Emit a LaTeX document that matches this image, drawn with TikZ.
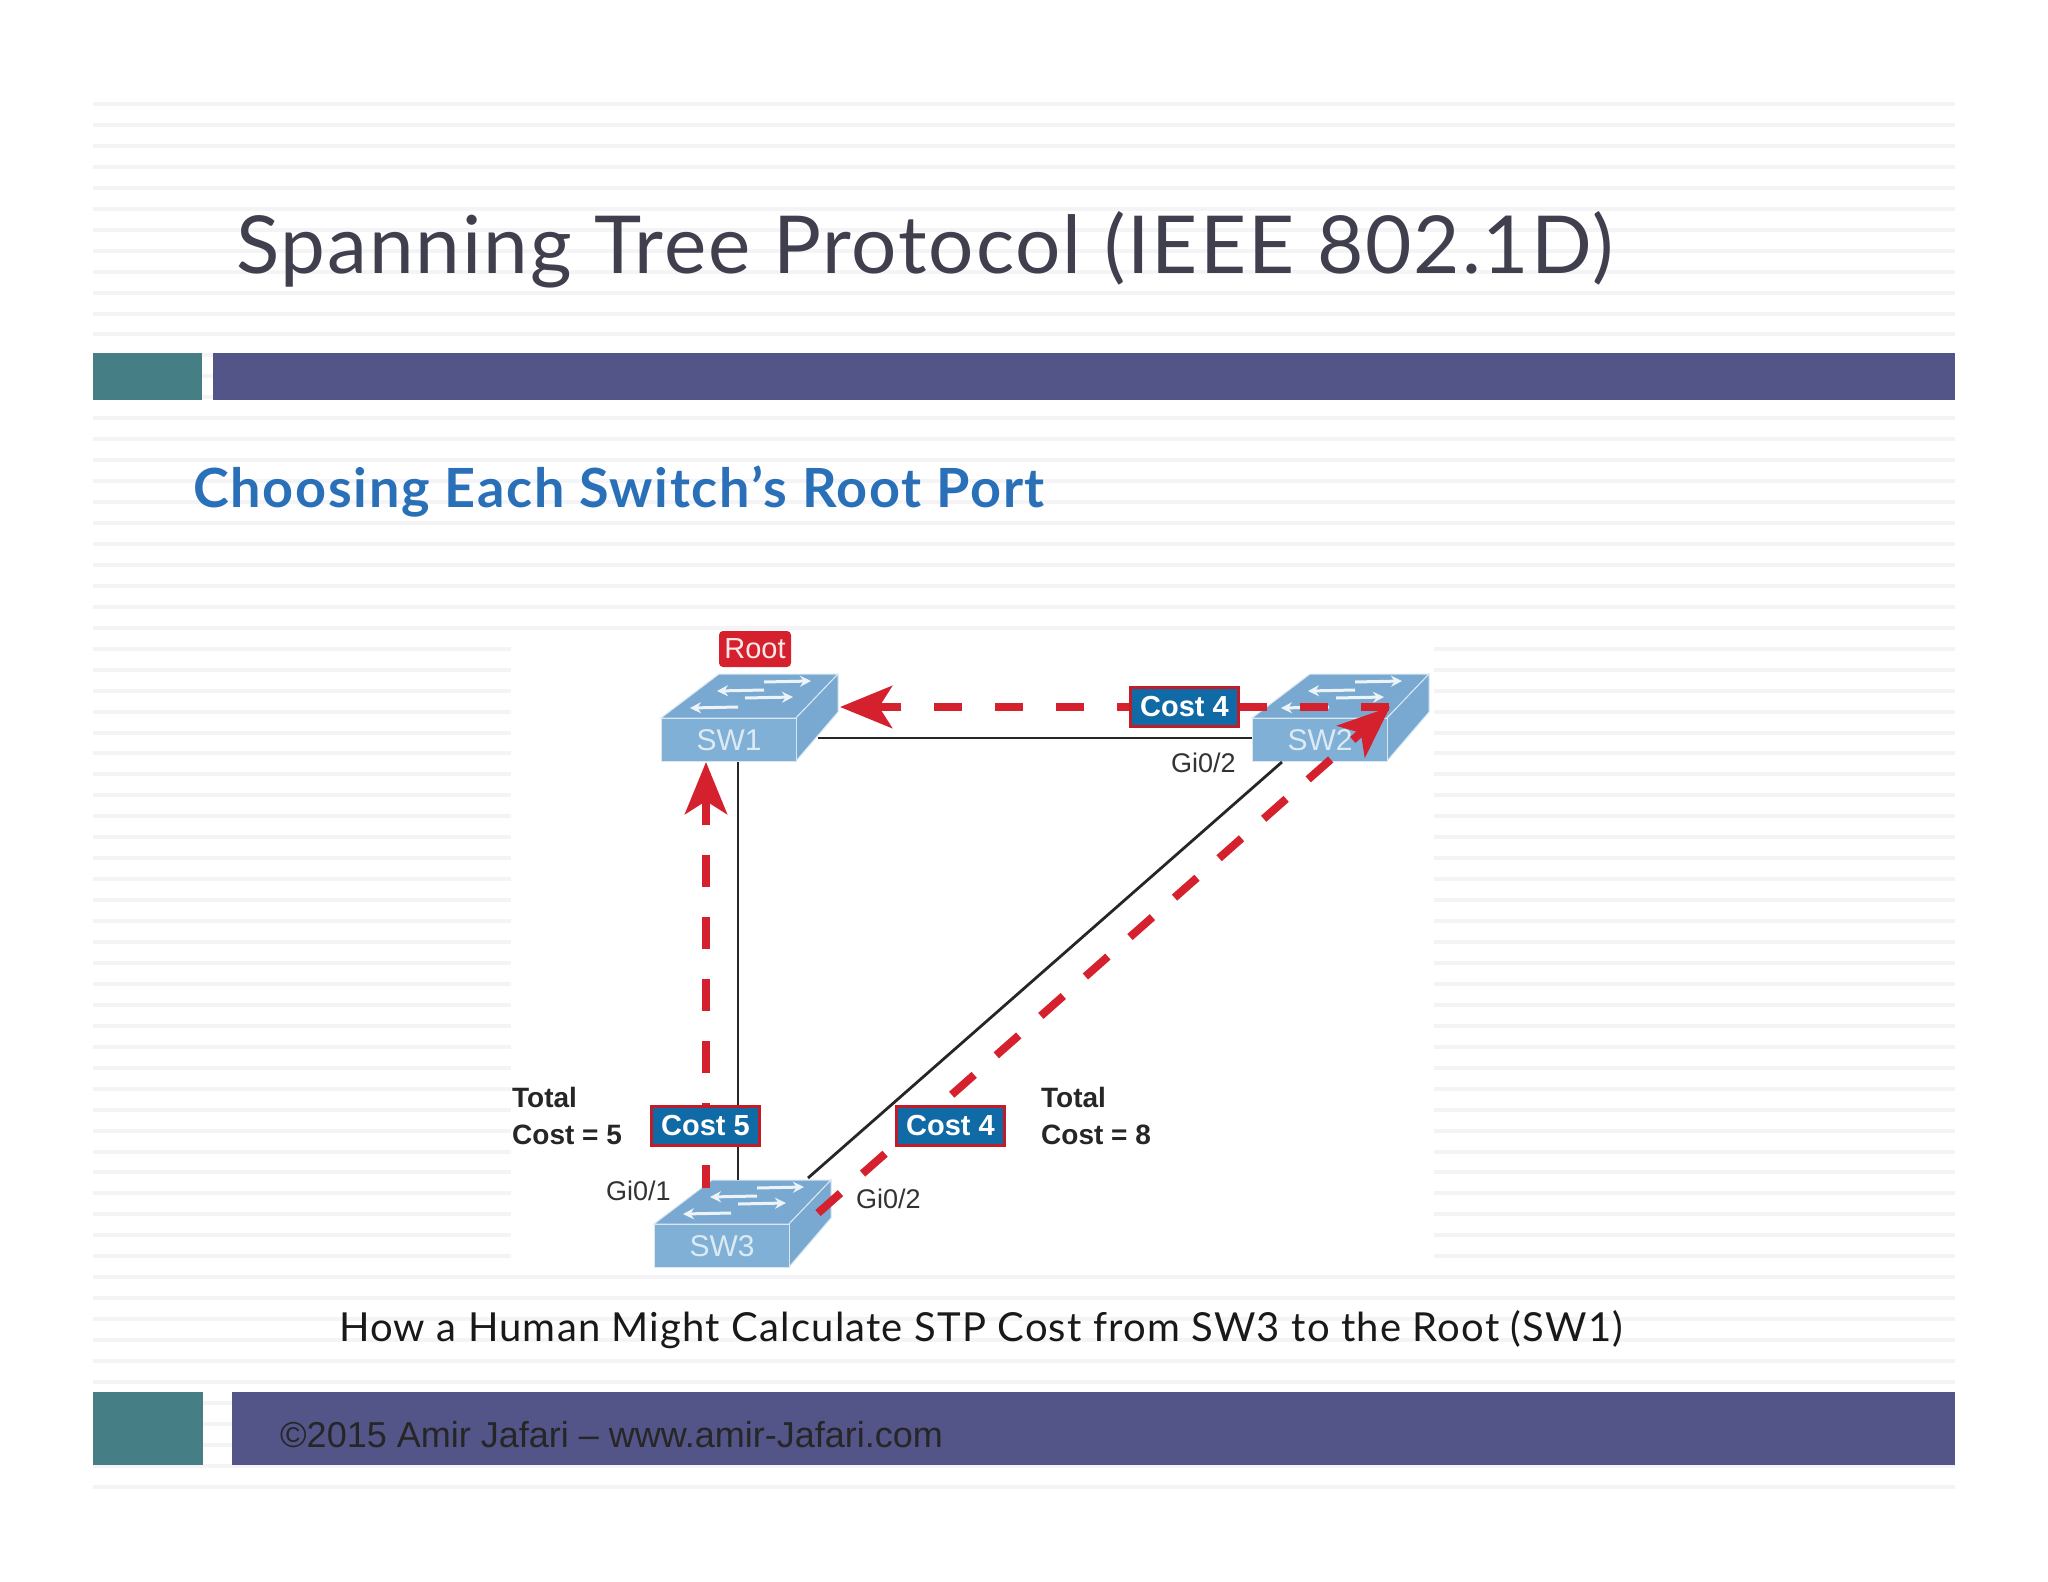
\documentclass[tikz,border=0pt]{standalone}
\usepackage{fontspec}
\usepackage{tikz}
\usetikzlibrary{arrows.meta}
\newfontfamily\headfont[LetterSpace=2.45]{Lato}
\newfontfamily\subheadfont[LetterSpace=3.15]{Lato}
\newfontfamily\captionfont[LetterSpace=2.95]{Lato}
\newfontfamily\armfont{Liberation Sans}
\definecolor{stripegray}{HTML}{F4F4F6}
\definecolor{tealbar}{HTML}{467E85}
\definecolor{purplebar}{HTML}{535487}
\definecolor{titlegray}{HTML}{3F3F4E}
\definecolor{subblue}{HTML}{2A70B8}
\definecolor{swfront}{HTML}{80B0D5}
\definecolor{swtop}{HTML}{79A9D0}
\definecolor{swtext}{HTML}{DCEAF4}
\definecolor{pathred}{HTML}{D5202E}
\definecolor{costblue}{HTML}{0F6AA5}
\tikzset{
    x=1pt,
    y=-1pt,
    swface/.style={
        draw=white!70!swfront,
        line width=1pt,
        fill=swtop
    },
    swbox/.style={
        swface,
        fill=swfront,
        rectangle,
        anchor=north west,
        inner sep=0pt,
        minimum width=135pt,
        minimum height=43pt,
        text=swtext,
        font=\armfont\fontsize{30}{34}\selectfont
    },
    swarrow/.style={
        line width=3pt,
        draw=white!85!swfront,
        -{Stealth[length=11pt,width=11pt]}
    },
    link/.style={
        line width=2.8pt,
        draw=black!85
    },
    costpath/.style={
        line width=8pt,
        draw=pathred,
        -{Stealth[length=52pt,width=42pt,inset=13pt]}
    },
    costbox/.style={
        draw=pathred!90!black,
        line width=3.5pt,
        fill=costblue,
        inner sep=0pt,
        minimum width=108pt,
        minimum height=39pt,
        text=white,
        font=\armfont\bfseries\fontsize{29}{32}\selectfont
    },
    costlabel/.style={
        anchor=base west,
        inner sep=0pt,
        text=black!85,
        font=\armfont\bfseries\fontsize{28}{32}\selectfont
    },
    portlabel/.style={
        anchor=base west,
        inner sep=0pt,
        text=black!80,
        font=\armfont\fontsize{27}{32}\selectfont
    },
    slidetext/.style={
        anchor=base west,
        inner sep=0pt
    }
}
\begin{document}
\begin{tikzpicture}
    \useasboundingbox (0,0) rectangle (2048,1582);
    \fill[white] (0,0) rectangle (2048,1582);

    \foreach \i in {0,...,66} {
        \fill[stripegray] (93,{102+20.95*\i}) rectangle (1955,{106+20.95*\i});
    }
    \fill[white] (511,632) rectangle (1434,1275);

    \fill[tealbar] (93,353) rectangle (202,400);
    \fill[purplebar] (213,353) rectangle (1955,400);
    \fill[tealbar] (93,1392) rectangle (203,1465);
    \fill[purplebar] (232,1392) rectangle (1955,1465);

    \node[slidetext, text=titlegray] (title) at (236,273) {\headfont\fontsize{80}{96}\selectfont Spanning Tree Protocol (IEEE 802.1D)};
    \node[slidetext, text=subblue] (subtitle) at (193,507) {\subheadfont\bfseries\fontsize{54}{64}\selectfont Choosing Each Switch’s Root Port};
    \node[slidetext, text=black!90] (caption) at (339,1341) {\captionfont\fontsize{40}{48}\selectfont How a Human Might Calculate STP Cost from SW3 to the Root (SW1)};
    \node[slidetext, text=black!85] (footer) at (280,1447) {\armfont\fontsize{36}{42}\selectfont ©2015 Amir Jafari – www.amir-Jafari.com};

    \foreach \n/\x/\y in {1/661/718, 2/1252/718, 3/654/1224} {
        \draw[swface] (\x,\y) -- (\x+58,\y-44) -- (\x+177,\y-44) -- (\x+135,\y) -- cycle;
        \draw[swface] (\x+135,\y) -- (\x+177,\y-44) -- (\x+177,\y-6) -- (\x+135,\y+43) -- cycle;
        \node[swbox] (sw\n) at (\x,\y) {SW\n};
        \draw[swarrow] (\x+103,\y-36) -- (\x+150,\y-37);
        \draw[swarrow] (\x+103,\y-28) -- (\x+56,\y-27);
        \draw[swarrow] (\x+84,\y-20) -- (\x+132,\y-21);
        \draw[swarrow] (\x+77,\y-11) -- (\x+29,\y-10);
    }

    \node[
        fill=pathred,
        rounded corners=4pt,
        inner sep=0pt,
        minimum width=72pt,
        minimum height=36pt,
        text=white!90!pathred,
        font=\armfont\fontsize{29}{32}\selectfont
    ] (root) at (755,649) {Root};

    \draw[link] ([shift={(77,0)}]sw1.south west) -- ([shift={(84,-44)}]sw3.north west);
    \draw[link] ([shift={(157,20)}]sw1.north west) -- ([shift={(0,20)}]sw2.north west);
    \draw[link] ([shift={(30,0)}]sw2.south west) -- ([shift={(154,-46)}]sw3.north west);

    \draw[costpath, dash pattern=on 32pt off 30pt, dash phase=9pt]
        ([shift={(52,-36)}]sw3.north west) -- ([shift={(45,0)}]sw1.south west);
    \draw[costpath, dash pattern=on 28pt off 33pt]
        ([shift={(137,-11)}]sw2.north west) -- ([shift={(179,-11)}]sw1.north west);
    \draw[costpath, dash pattern=on 30pt off 29.5pt]
        ([shift={(164,-11)}]sw3.north west) -- ([shift={(138,-11)}]sw2.north west);

    \node[costbox] (cost12) at (1184.5,707) {Cost 4};
    \node[costbox] (cost13) at (705.5,1126) {Cost 5};
    \node[costbox] (cost23) at (950.5,1126) {Cost 4};

    \node[costlabel] (totalleft) at (512,1107) {Total};
    \node[costlabel] (sumleft) at (512,1144) {Cost = 5};
    \node[costlabel] (totalright) at (1041,1107) {Total};
    \node[costlabel] (sumright) at (1041,1144) {Cost = 8};

    \node[portlabel] (gi31) at (606,1200) {Gi0/1};
    \node[portlabel] (gi32) at (856,1208) {Gi0/2};
    \node[portlabel] (gi22) at (1171,772) {Gi0/2};
\end{tikzpicture}
\end{document}
